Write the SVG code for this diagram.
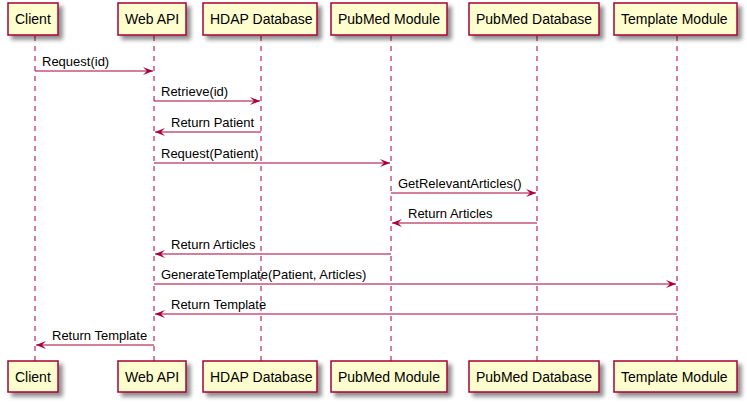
<svg xmlns="http://www.w3.org/2000/svg" width="747" height="403" viewBox="0 0 747 403">
<defs>
<filter id="sh" x="-20%" y="-20%" width="150%" height="160%">
<feGaussianBlur in="SourceAlpha" stdDeviation="2"/>
<feOffset dx="4" dy="4" result="b"/>
<feComponentTransfer><feFuncA type="linear" slope="0.45"/></feComponentTransfer>
<feMerge><feMergeNode/><feMergeNode in="SourceGraphic"/></feMerge>
</filter>
<marker id="ah" viewBox="0 0 10 8" refX="10" refY="4" markerWidth="10" markerHeight="8" markerUnits="userSpaceOnUse" orient="auto-start-reverse">
<polygon points="0,0 10,4 0,8 4,4" fill="#A80036"/>
</marker>
</defs>
<style>
.life{stroke:#A80036;stroke-width:1;stroke-dasharray:5,5;fill:none}
.box{fill:#FEFECE;stroke:#A80036;stroke-width:1.5}
.pt{font-family:"Liberation Sans",Arial,sans-serif;font-size:14px;fill:#000}
.msg{stroke:#A80036;stroke-width:1;fill:none;marker-end:url(#ah)}
.ml{font-family:"Liberation Sans",Arial,sans-serif;font-size:13px;fill:#000}
</style>
<rect width="747" height="403" fill="#FFFFFF"/>
<g id="lifelines">
<line class="life" x1="35" y1="36" x2="35" y2="362"/>
<line class="life" x1="154" y1="36" x2="154" y2="362"/>
<line class="life" x1="261" y1="36" x2="261" y2="362"/>
<line class="life" x1="391" y1="36" x2="391" y2="362"/>
<line class="life" x1="537" y1="36" x2="537" y2="362"/>
<line class="life" x1="677" y1="36" x2="677" y2="362"/>
</g>
<g id="client">
<rect class="box" filter="url(#sh)" x="8" y="3" width="50" height="32"/>
<text class="pt" x="15" y="24">Client</text>
<rect class="box" filter="url(#sh)" x="8" y="361" width="50" height="31"/>
<text class="pt" x="15" y="382">Client</text>
</g>
<g id="webapi">
<rect class="box" filter="url(#sh)" x="118" y="3" width="68" height="32"/>
<text class="pt" x="125" y="24">Web API</text>
<rect class="box" filter="url(#sh)" x="118" y="361" width="68" height="31"/>
<text class="pt" x="125" y="382">Web API</text>
</g>
<g id="hdap">
<rect class="box" filter="url(#sh)" x="203" y="3" width="114" height="32"/>
<text class="pt" x="210" y="24">HDAP Database</text>
<rect class="box" filter="url(#sh)" x="203" y="361" width="114" height="31"/>
<text class="pt" x="210" y="382">HDAP Database</text>
</g>
<g id="pubmedmodule">
<rect class="box" filter="url(#sh)" x="331" y="3" width="116" height="32"/>
<text class="pt" x="338" y="24">PubMed Module</text>
<rect class="box" filter="url(#sh)" x="331" y="361" width="116" height="31"/>
<text class="pt" x="338" y="382">PubMed Module</text>
</g>
<g id="pubmeddb">
<rect class="box" filter="url(#sh)" x="469" y="3" width="130" height="32"/>
<text class="pt" x="476" y="24">PubMed Database</text>
<rect class="box" filter="url(#sh)" x="469" y="361" width="130" height="31"/>
<text class="pt" x="476" y="382">PubMed Database</text>
</g>
<g id="template">
<rect class="box" filter="url(#sh)" x="614" y="3" width="123" height="32"/>
<text class="pt" x="621" y="24">Template Module</text>
<rect class="box" filter="url(#sh)" x="614" y="361" width="123" height="31"/>
<text class="pt" x="621" y="382">Template Module</text>
</g>
<g id="connectors">
<line class="msg" x1="35" y1="71" x2="153" y2="71"/>
<text class="ml" x="42" y="66">Request(id)</text>
<line class="msg" x1="154" y1="101" x2="260" y2="101"/>
<text class="ml" x="161" y="96">Retrieve(id)</text>
<line class="msg" x1="261" y1="132" x2="155" y2="132"/>
<text class="ml" x="171" y="127">Return Patient</text>
<line class="msg" x1="154" y1="163" x2="390" y2="163"/>
<text class="ml" x="161" y="158">Request(Patient)</text>
<line class="msg" x1="391" y1="193" x2="536" y2="193"/>
<text class="ml" x="398" y="188">GetRelevantArticles()</text>
<line class="msg" x1="537" y1="223" x2="392" y2="223"/>
<text class="ml" x="408" y="218">Return Articles</text>
<line class="msg" x1="391" y1="254" x2="155" y2="254"/>
<text class="ml" x="171" y="249">Return Articles</text>
<line class="msg" x1="154" y1="284" x2="676" y2="284"/>
<text class="ml" x="161" y="279">GenerateTemplate(Patient, Articles)</text>
<line class="msg" x1="677" y1="314" x2="155" y2="314"/>
<text class="ml" x="171" y="309">Return Template</text>
<line class="msg" x1="154" y1="345" x2="36" y2="345"/>
<text class="ml" x="52" y="340">Return Template</text>
</g>
</svg>
